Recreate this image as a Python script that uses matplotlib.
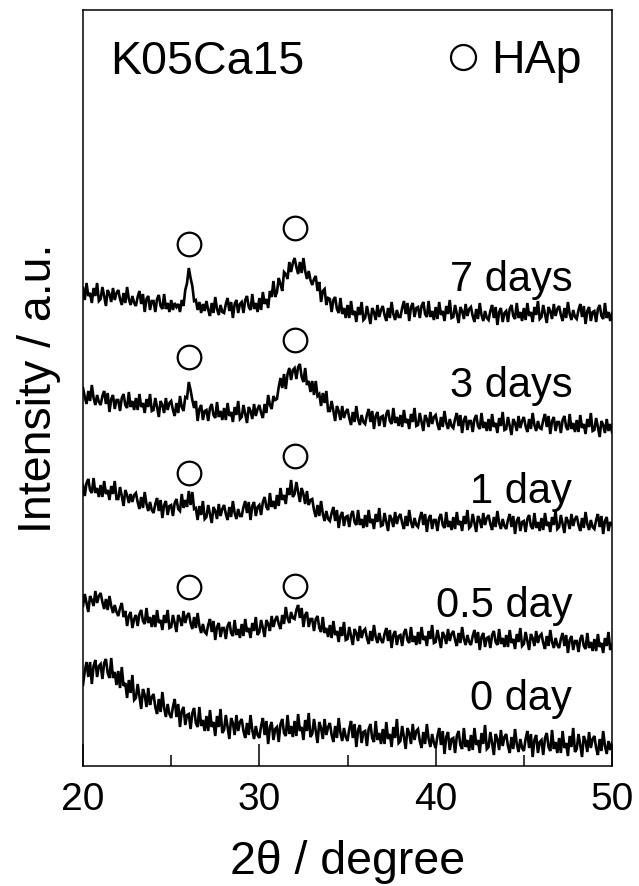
import numpy as np
import matplotlib
matplotlib.use("Agg")
import matplotlib.pyplot as plt

plt.rcParams['font.family'] = ['Liberation Sans', 'DejaVu Sans']

# 2theta scan positions (degree): 20.0 ... 50.0, step 0.1
two_theta = np.round(np.arange(200, 501) / 10.0, 1)

# Intensities (a.u.), one row per degree (x.0 ... x.9)
i_7days = [
    28, 16, 33, 20, 23, 13, 28, 20, 33, 15,
    17, 29, 20, 10, 26, 22, 14, 28, 16, 23,
    26, 17, 11, 23, 13, 29, 17, 11, 20, 13,
    10, 19, 25, 12, 22, 4, 17, 20, 6, 15,
    15, 4, 17, 21, 10, 7, 22, 7, 13, 4,
    16, 6, 13, 9, 12, 4, 16, 10, 26, 33,
    48, 38, 30, 15, 16, 6, 14, 3, 12, 5,
    15, 6, 0, 13, 3, 19, 7, 1, 11, 4,
    3, 12, 18, 5, 14, -2, 12, 16, 3, 12,
    14, 3, 16, 20, 9, 6, 22, 7, 13, 4,
    18, 6, 24, 12, 17, 8, 25, 19, 35, 19,
    24, 38, 32, 25, 44, 42, 37, 54, 44, 53,
    58, 49, 42, 54, 43, 58, 45, 37, 45, 36,
    31, 37, 40, 25, 34, 14, 25, 27, 11, 18,
    17, 4, 16, 19, 7, 3, 18, 2, 8, -2,
    11, -2, 15, 1, 5, -6, 9, 1, 14, -4,
    -2, 10, 1, -8, 8, 4, -4, 11, -1, 6,
    10, 1, -5, 8, -2, 14, 2, -4, 6, -1,
    -1, 8, 15, 2, 13, -5, 9, 13, -1, 8,
    9, -2, 10, 14, 2, -1, 15, -1, 5, -4,
    9, -3, 14, 1, 5, -5, 10, 2, 16, -2,
    -1, 11, 2, -7, 9, 5, -3, 12, 0, 7,
    9, 0, -6, 7, -3, 13, 1, -5, 5, -2,
    -4, 5, 11, -2, 9, -9, 4, 8, -6, 3,
    5, -6, 7, 11, 0, -3, 13, -2, 4, -5,
    8, -4, 13, 0, 4, -6, 9, 1, 15, -3,
    -1, 11, 2, -7, 9, 5, -3, 12, 0, 7,
    10, 1, -5, 8, -2, 14, 2, -4, 6, -1,
    -3, 6, 12, -1, 10, -8, 5, 9, -5, 4,
    5, -6, 7, 11, 0, -3, 13, -2, 4, -5,
    3]

i_3days = [
    38, 29, 22, 35, 25, 41, 28, 21, 31, 24,
    21, 30, 35, 22, 33, 14, 27, 31, 17, 26,
    26, 15, 28, 32, 21, 18, 34, 19, 25, 16,
    28, 16, 32, 19, 23, 13, 27, 19, 32, 15,
    16, 28, 19, 9, 25, 21, 13, 28, 16, 23,
    25, 16, 10, 23, 13, 30, 19, 15, 29, 28,
    44, 36, 26, 18, 25, 5, 17, 21, 6, 15,
    16, 5, 18, 22, 11, 8, 24, 9, 15, 6,
    18, 6, 23, 10, 14, 4, 19, 11, 25, 7,
    9, 21, 12, 3, 19, 15, 7, 22, 10, 17,
    21, 13, 8, 22, 13, 31, 21, 17, 30, 26,
    27, 39, 48, 38, 52, 37, 52, 58, 46, 56,
    58, 47, 59, 62, 49, 44, 58, 41, 45, 34,
    45, 31, 45, 30, 32, 20, 33, 23, 35, 15,
    15, 25, 15, 5, 20, 15, 6, 20, 8, 14,
    17, 8, 1, 14, 4, 20, 7, 1, 11, 4,
    2, 11, 17, 4, 15, -3, 10, 14, 0, 9,
    10, -1, 12, 16, 5, 2, 18, 3, 9, 0,
    11, -1, 16, 3, 7, -3, 12, 4, 18, 0,
    1, 13, 4, -5, 11, 7, -1, 14, 2, 9,
    11, 2, -4, 9, -1, 15, 3, -3, 7, 0,
    -2, 7, 13, 0, 11, -7, 6, 10, -4, 5,
    5, -6, 7, 11, 0, -3, 13, -2, 4, -5,
    7, -5, 12, -1, 3, -7, 8, 0, 14, -4,
    -3, 9, 0, -9, 7, 3, -5, 10, -2, 5,
    9, 0, -6, 7, -3, 13, 1, -5, 5, -2,
    -3, 6, 12, -1, 10, -8, 5, 9, -5, 4,
    4, -7, 6, 10, -1, -4, 12, -3, 3, -6,
    6, -6, 11, -2, 2, -8, 7, -1, 13, -5,
    -4, 8, -1, -11, 5, 1, -7, 7, -5, 2,
    -6]

i_1day = [
    41, 30, 43, 47, 36, 33, 48, 33, 38, 29,
    41, 29, 45, 32, 36, 26, 40, 32, 45, 27,
    27, 39, 30, 20, 36, 31, 23, 32, 24, 31,
    33, 24, 17, 29, 18, 34, 22, 15, 24, 16,
    13, 22, 28, 15, 26, 8, 21, 25, 11, 20,
    21, 10, 23, 27, 17, 15, 32, 18, 26, 19,
    35, 21, 34, 17, 18, 6, 20, 11, 25, 7,
    9, 21, 12, 3, 19, 15, 7, 22, 10, 17,
    21, 12, 6, 19, 9, 25, 13, 7, 17, 10,
    10, 19, 25, 13, 24, 6, 20, 24, 10, 19,
    21, 11, 24, 29, 19, 16, 33, 19, 25, 17,
    31, 20, 38, 26, 31, 22, 38, 31, 46, 29,
    32, 44, 34, 24, 38, 32, 22, 35, 21, 26,
    27, 16, 9, 21, 10, 25, 12, 5, 15, 7,
    5, 13, 19, 5, 16, -2, 10, 14, 0, 9,
    10, -1, 11, 15, 4, 1, 16, 1, 7, -2,
    11, -1, 16, 3, 7, -3, 12, 4, 18, 0,
    1, 13, 4, -5, 11, 7, -1, 14, 2, 9,
    12, 3, -3, 10, 0, 16, 4, -2, 8, 1,
    -1, 8, 14, 1, 12, -6, 7, 11, -3, 6,
    6, -5, 8, 12, 1, -2, 14, -1, 5, -4,
    9, -3, 14, 1, 5, -5, 10, 2, 16, -2,
    0, 12, 3, -6, 10, 6, -2, 13, 1, 8,
    11, 2, -4, 9, -1, 15, 3, -3, 7, 0,
    -3, 6, 12, -1, 10, -8, 5, 9, -5, 4,
    5, -6, 7, 11, 0, -3, 13, -2, 4, -5,
    8, -4, 13, 0, 4, -6, 9, 1, 15, -3,
    -1, 11, 2, -7, 9, 5, -3, 12, 0, 7,
    10, 1, -5, 8, -2, 14, 2, -4, 6, -1,
    -3, 6, 12, -1, 10, -8, 5, 9, -5, 4,
    1]

i_05day = [
    40, 52, 43, 34, 50, 46, 40, 55, 43, 50,
    53, 44, 37, 47, 36, 50, 40, 33, 41, 34,
    30, 38, 43, 29, 35, 20, 30, 34, 18, 27,
    31, 20, 32, 36, 25, 22, 38, 23, 29, 19,
    31, 19, 36, 23, 26, 16, 31, 23, 36, 18,
    19, 31, 23, 14, 31, 27, 20, 35, 23, 30,
    33, 23, 17, 29, 18, 33, 20, 13, 22, 14,
    12, 21, 27, 14, 25, 6, 19, 23, 9, 18,
    18, 7, 20, 24, 13, 10, 26, 11, 17, 8,
    22, 10, 27, 14, 18, 8, 23, 15, 29, 11,
    14, 26, 18, 9, 26, 22, 15, 30, 19, 26,
    30, 22, 17, 31, 22, 39, 28, 23, 34, 28,
    27, 36, 41, 28, 38, 19, 31, 34, 19, 27,
    27, 15, 27, 30, 18, 14, 29, 13, 18, 9,
    21, 8, 25, 11, 15, 4, 19, 10, 24, 6,
    7, 19, 10, 1, 17, 13, 5, 20, 8, 15,
    17, 8, 2, 15, 5, 21, 9, 3, 13, 6,
    3, 12, 18, 5, 16, -2, 11, 15, 1, 10,
    11, 0, 13, 17, 6, 3, 19, 4, 10, 1,
    14, 2, 19, 6, 10, 0, 15, 7, 21, 3,
    4, 16, 7, -2, 14, 10, 2, 17, 5, 12,
    15, 6, 0, 13, 3, 19, 7, 1, 11, 4,
    1, 10, 16, 3, 14, -4, 9, 13, -1, 8,
    9, -2, 11, 15, 4, 1, 17, 2, 8, -1,
    11, -1, 16, 3, 7, -3, 12, 4, 18, 0,
    2, 14, 5, -4, 12, 8, 0, 15, 3, 10,
    12, 3, -3, 10, 0, 16, 4, -2, 8, 1,
    -2, 7, 13, 0, 11, -7, 6, 10, -4, 5,
    5, -6, 7, 11, 0, -3, 13, -2, 4, -5,
    7, -5, 12, -1, 3, -7, 8, 0, 14, -4,
    1]

i_0day = [
    61, 75, 84, 69, 84, 62, 80, 86, 69, 80,
    82, 67, 83, 87, 73, 68, 88, 68, 74, 61,
    75, 58, 79, 60, 63, 48, 66, 53, 71, 46,
    48, 62, 50, 37, 57, 51, 39, 58, 41, 49,
    52, 39, 32, 47, 34, 54, 38, 29, 42, 32,
    28, 39, 47, 29, 42, 19, 35, 39, 21, 31,
    32, 17, 33, 38, 23, 19, 39, 20, 26, 15,
    30, 15, 36, 19, 24, 10, 30, 19, 37, 13,
    16, 31, 19, 7, 28, 23, 11, 31, 15, 24,
    27, 15, 8, 23, 11, 31, 16, 7, 20, 11,
    8, 20, 28, 11, 25, 2, 19, 24, 6, 17,
    19, 4, 22, 27, 13, 10, 31, 12, 20, 9,
    25, 10, 32, 15, 19, 6, 26, 15, 33, 9,
    12, 27, 15, 3, 24, 18, 7, 27, 11, 19,
    23, 11, 4, 20, 8, 28, 13, 5, 18, 9,
    5, 17, 25, 8, 22, -1, 16, 21, 3, 14,
    15, 0, 17, 22, 8, 4, 25, 6, 13, 2,
    17, 2, 24, 7, 12, -1, 19, 8, 27, 3,
    5, 20, 9, -3, 18, 13, 2, 22, 6, 15,
    17, 5, -2, 14, 2, 22, 7, -1, 12, 3,
    -2, 10, 18, 1, 15, -8, 9, 14, -4, 7,
    8, -7, 10, 15, 1, -3, 18, -1, 6, -5,
    11, -4, 18, 1, 6, -7, 13, 2, 21, -3,
    -1, 14, 3, -9, 12, 7, -4, 16, 0, 9,
    12, 0, -7, 9, -3, 17, 2, -6, 7, -2,
    -5, 7, 15, -2, 12, -11, 6, 11, -7, 4,
    6, -9, 8, 13, -1, -5, 16, -3, 4, -7,
    8, -7, 15, -2, 3, -10, 10, -1, 18, -6,
    -3, 12, 1, -11, 10, 5, -6, 14, -2, 7,
    10, -2, -9, 7, -5, 15, 0, -8, 5, -4,
    3]

sample_labels = ["0 day", "0.5 day", "1 day", "3 days", "7 days"]
series = [i_0day, i_05day, i_1day, i_3days, i_7days]
stack_offsets = [20, 120, 240, 340, 450]

# HAp reflections (degree) and marker heights above each trace's offset
hap_peaks = [26.0, 32.05]
hap_marker_height = {"0.5 day": [59, 60], "1 day": [53, 70],
                     "3 days": [69, 86], "7 days": [72, 88]}
label_height = [36, 29, 23, 29, 25]

xticks = [20, 30, 40, 50]
xminor = [25, 35, 45]

fig = plt.figure(figsize=(6.39, 8.86), dpi=100)
ax = fig.add_axes([83/639, 1 - 766/886, (612-83)/639, (766-10)/886])

for lab, vals, off, lh in zip(sample_labels, series, stack_offsets, label_height):
    ax.plot(two_theta, np.array(vals) + off, color='black', lw=1.9,
            solid_joinstyle='miter')
    ax.text(47.74, off + lh, lab, ha='right', va='baseline', fontsize=30)
    if lab in hap_marker_height:
        ax.plot(hap_peaks, np.array(hap_marker_height[lab]) + off, 'o',
                mfc='none', mec='black', mew=1.6, ms=17, ls='none')

ax.set_xlim(20, 50)
ax.set_ylim(0, 756)
ax.set_xticks(xticks)
ax.set_xticks(xminor, minor=True)
ax.set_yticks([])
ax.tick_params(axis='x', which='major', direction='in', length=15.8, width=1.1,
               labelsize=28, pad=11.5)
ax.tick_params(axis='x', which='minor', direction='in', length=7.9, width=1.1)
for s in ax.spines.values():
    s.set_linewidth(1.1)

ax.set_xlabel("2θ / degree", fontsize=33.5, labelpad=15.5)
ax.set_ylabel("Intensity / a.u.", fontsize=33.5, labelpad=16)

ax.text(21.53, 692, "K05Ca15", ha='left', va='baseline', fontsize=33.5)
ax.text(48.30, 693, "HAp", ha='right', va='baseline', fontsize=33.5)
ax.plot([41.55], [709], 'o', mfc='none', mec='black', mew=1.6, ms=18)

fig.savefig("out.png", dpi=100)
